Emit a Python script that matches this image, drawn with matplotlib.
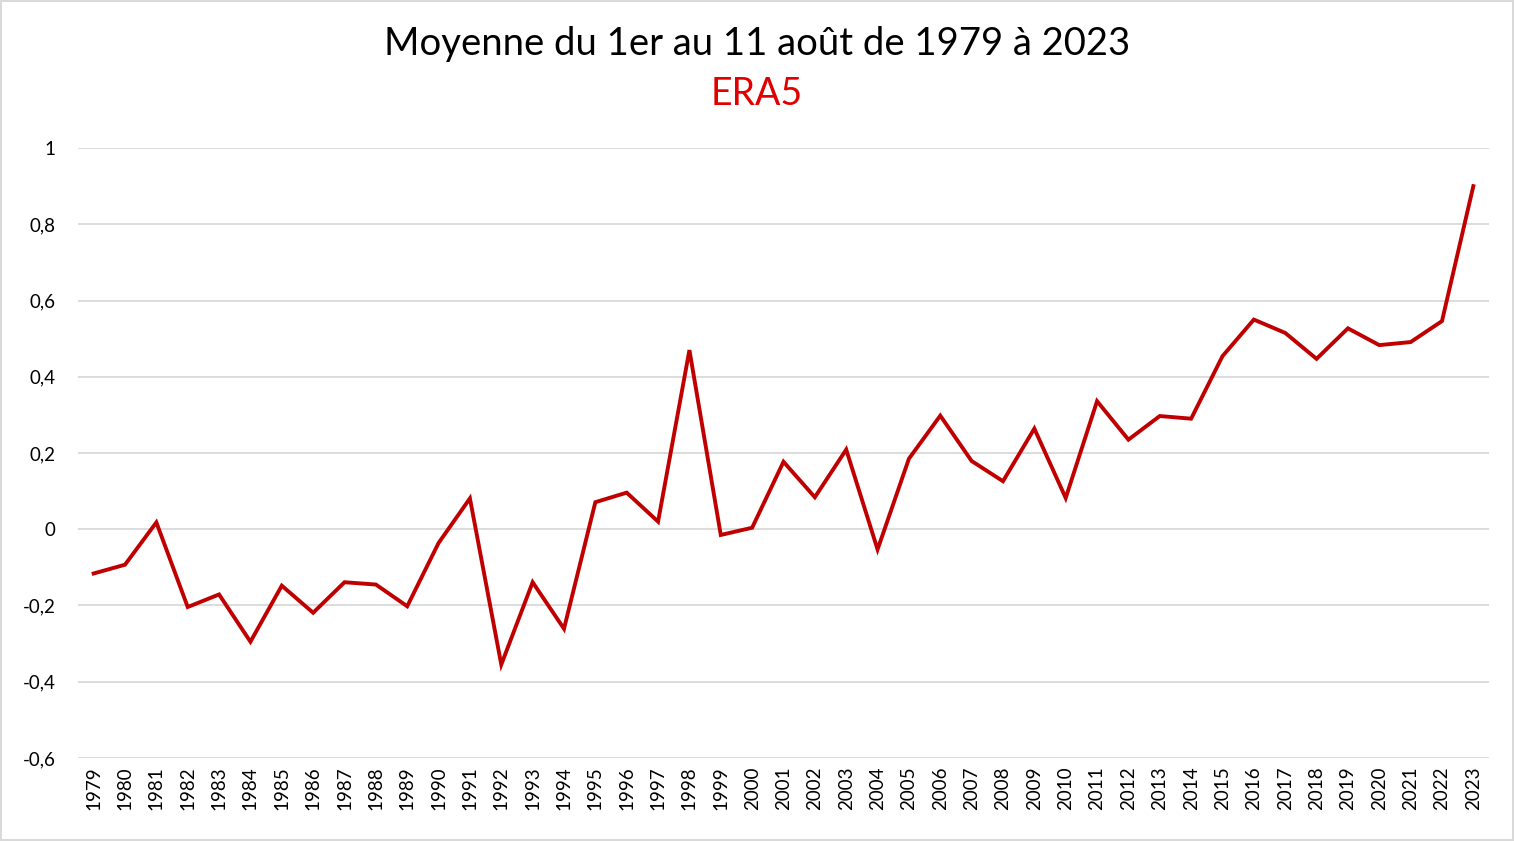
import matplotlib
matplotlib.use("Agg")
import matplotlib.pyplot as plt
from matplotlib.ticker import FuncFormatter, MultipleLocator

years = list(range(1979, 2024))
anomalies = [
    -0.116, -0.093, 0.018, -0.204, -0.171, -0.295, -0.148, -0.219, -0.139, -0.145,
    -0.202, -0.036, 0.081, -0.355, -0.139, -0.261, 0.071, 0.096, 0.020, 0.470,
    -0.015, 0.004, 0.177, 0.084, 0.209, -0.053, 0.185, 0.298, 0.179, 0.126,
    0.264, 0.082, 0.336, 0.235, 0.297, 0.290, 0.454, 0.550, 0.515, 0.447,
    0.527, 0.483, 0.491, 0.546, 0.900,
]
title = "Moyenne du 1er au 11 août de 1979 à 2023"
subtitle = "ERA5"


def fmt_fr(v, _):
    # decimal comma like the French Excel original
    if abs(v) < 1e-9:
        return "0"
    return f"{v:.1f}".rstrip('0').rstrip('.').replace('.', ',')


plt.rcParams['font.family'] = ['Lato', 'DejaVu Sans']

fig = plt.figure(figsize=(15.14, 8.41), dpi=100)
fig.patch.set_edgecolor('#d9d9d9')
fig.patch.set_linewidth(1.5)
ax = fig.add_axes([0.0515, 0.0987, 0.932, 0.7253])

x = list(range(len(years)))
ax.plot(x, anomalies, color='#c00000', lw=2.8, solid_joinstyle='miter')

ax.set_xlim(-0.5, len(years) - 0.5)
ax.set_ylim(-0.6, 1.0)
ax.yaxis.set_major_locator(MultipleLocator(0.2))
ax.yaxis.set_major_formatter(FuncFormatter(fmt_fr))
ax.set_xticks(x)
ax.set_xticklabels([str(y) for y in years], rotation=90)

ax.grid(axis='y', color='#d9d9d9', lw=1.3)
ax.set_axisbelow(True)
for s in ax.spines.values():
    s.set_visible(False)
ax.tick_params(axis='both', length=0, labelsize=13.5, colors='#000000')
ax.tick_params(axis='y', pad=16)
ax.tick_params(axis='x', pad=6)

fig.text(0.5, 0.948, title, ha='center', va='center', fontsize=27.5, color='black')
fig.text(0.5, 0.888, subtitle, ha='center', va='center', fontsize=27, color='#e00000')

fig.savefig("out.png", dpi=100)
